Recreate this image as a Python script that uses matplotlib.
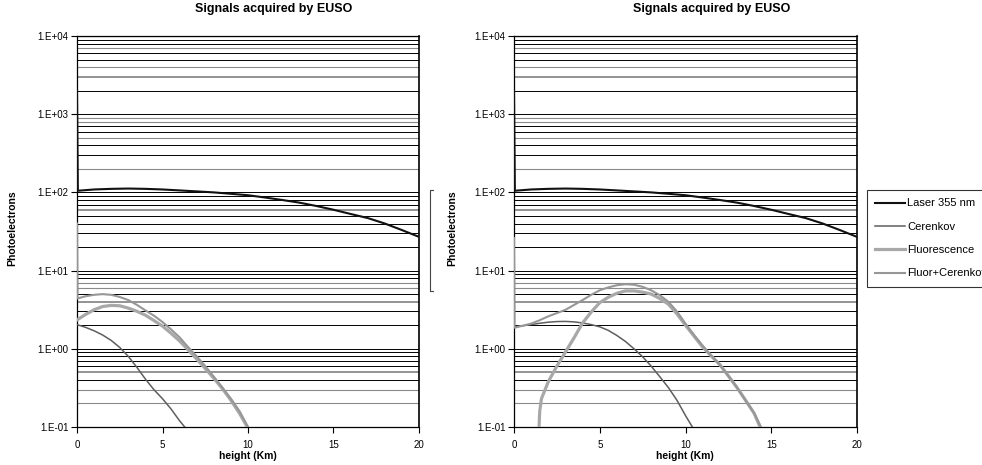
import numpy as np
import matplotlib
matplotlib.use("Agg")
import matplotlib.pyplot as plt
from matplotlib.lines import Line2D
from matplotlib.ticker import FixedLocator, FuncFormatter, NullLocator

plt.rcParams['font.family'] = ['Liberation Sans', 'DejaVu Sans']

# height (km) and photoelectron counts, case A (left panel)
laser_x = [0, 0.05, 1, 2, 3, 4, 5, 6, 7, 8, 9, 10, 11, 12, 13, 14, 15, 16, 17, 18, 19, 20]
laser_y = [2000, 105, 109, 111, 112, 111, 109, 106, 103, 100, 96, 92, 86, 80, 74, 67, 60, 53, 47, 40, 33, 27]

cer_a_x = [0, 0.5, 1, 1.5, 2, 2.5, 3, 3.5, 4, 4.5, 5, 5.5, 6, 6.3]
cer_a_y = [2.04, 1.88, 1.70, 1.50, 1.28, 1.04, 0.80, 0.58, 0.41, 0.30, 0.23, 0.17, 0.12, 0.1]

flu_a_x = [0, 0.5, 1, 1.5, 2, 2.5, 3, 3.5, 4, 4.5, 5, 5.5, 6, 6.5, 7, 7.5, 8, 8.5, 9, 9.5, 9.96]
flu_a_y = [2.34, 2.75, 3.16, 3.47, 3.59, 3.55, 3.31, 3.02, 2.69, 2.3, 1.95, 1.58, 1.26, 0.97,
           0.74, 0.56, 0.42, 0.31, 0.22, 0.15, 0.1]

sum_a_x = [0, 0.03, 0.5, 1, 1.5, 2, 2.5, 3, 3.5, 4, 4.5, 5, 5.5, 6, 6.5, 7, 7.5, 8, 8.5, 9, 9.5, 10]
sum_a_y = [40, 4.4, 4.7, 4.9, 5.0, 4.9, 4.6, 4.2, 3.65, 3.1, 2.65, 2.2, 1.77, 1.4, 1.05,
           0.8, 0.6, 0.44, 0.32, 0.23, 0.16, 0.1]

# case B (right panel)
cer_b_x = [0, 0.5, 1, 1.5, 2, 2.5, 3, 3.5, 4, 4.5, 5, 5.5, 6, 6.5, 7, 7.5, 8, 8.5, 9, 9.5, 10, 10.4]
cer_b_y = [1.9, 1.97, 2.04, 2.12, 2.19, 2.23, 2.24, 2.21, 2.14, 2.04, 1.91, 1.72, 1.48, 1.24,
           1.0, 0.79, 0.60, 0.44, 0.32, 0.22, 0.14, 0.1]

flu_b_x = [1.46, 1.5, 1.6, 2.0, 2.5, 3.0, 3.5, 4, 4.5, 5, 5.5, 6, 6.5, 7, 7.5, 8, 8.5, 9, 9.5,
           10, 10.5, 11, 11.5, 12, 12.5, 13, 13.5, 14, 14.35]
flu_b_y = [0.1, 0.16, 0.23, 0.38, 0.60, 0.91, 1.38, 2.14, 2.95, 3.89, 4.57, 5.13, 5.50, 5.50,
           5.3, 5.01, 4.4, 3.72, 2.8, 2.0, 1.45, 1.05, 0.81, 0.63, 0.45, 0.32, 0.22, 0.15, 0.1]

sum_b_x = [0, 0.03, 1, 1.46, 2, 3, 4, 4.5, 5, 5.5, 6, 6.5, 7, 7.5, 8, 8.5, 9, 9.5, 10, 10.5,
           11, 11.5, 12, 12.5, 13, 13.5, 14, 14.4]
sum_b_y = [26, 1.86, 2.1, 2.3, 2.6, 3.15, 4.2, 4.9, 5.6, 6.1, 6.5, 6.7, 6.6, 6.2, 5.6, 4.85,
           4.0, 3.0, 2.1, 1.5, 1.1, 0.82, 0.62, 0.45, 0.32, 0.22, 0.15, 0.1]

labels = ['Laser 355 nm', 'Cerenkov', 'Fluorescence', 'Fluor+Cerenkov']
colors = ['#111111', '#5e5e5e', '#a8a8a8', '#979797']
widths = [1.5, 1.1, 2.3, 1.5]

# minor grid levels that came out grey in the original export
grey_levels = {3000: 1.3, 4000: 0.8, 7000: 0.8, 900: 0.8, 800: 0.8, 500: 0.8, 200: 0.8,
               60: 1.3, 7: 0.8, 6: 0.8, 4: 1.3, 0.5: 1.3, 0.3: 0.8, 0.2: 0.8}

W, H = 982, 465
fig = plt.figure(figsize=(W / 100, H / 100), dpi=100)


def px(x0, y0, x1, y1):
    return [x0 / W, 1 - y1 / H, (x1 - x0) / W, (y1 - y0) / H]


def panel(rect, series):
    ax = fig.add_axes(rect)
    ax.set_yscale('log')
    ax.set_xlim(0, 20)
    ax.set_ylim(0.1, 1e4)
    for d in range(-1, 4):
        for m in range(1, 10):
            lv = round(m * 10.0 ** d, 6)
            if lv in grey_levels:
                ax.axhline(lv, color='#8a8a8a', lw=grey_levels[lv], zorder=1)
            else:
                ax.axhline(lv, color='black', lw=0.7, zorder=1)
    ax.axhline(1e4, color='black', lw=0.8, zorder=1)
    for (x, y), c, w in zip(series, colors, widths):
        ax.plot(x, y, color=c, lw=w, zorder=3, solid_joinstyle='round')
    ax.yaxis.set_major_locator(FixedLocator([0.1, 1, 10, 100, 1000, 10000]))
    ax.yaxis.set_minor_locator(NullLocator())
    ax.yaxis.set_major_formatter(FuncFormatter(lambda v, p: '1.E%+03d' % int(round(np.log10(v)))))
    ax.set_xticks([0, 5, 10, 15, 20])
    ax.tick_params(axis='both', direction='out', length=4, width=0.8, labelsize=7, pad=2)
    ax.tick_params(axis='x', pad=5)
    for s in ax.spines.values():
        s.set_linewidth(0.9)
        s.set_color('black')
    ax.spines['right'].set_linewidth(1.2)
    return ax


ax1 = panel(px(77, 36, 419, 427),
            [(laser_x, laser_y), (cer_a_x, cer_a_y), (flu_a_x, flu_a_y), (sum_a_x, sum_a_y)])

# left edge of the first chart's legend, peeking out behind the second chart
fig.add_artist(Line2D([433 / W, 430 / W, 430 / W, 433 / W],
                      [1 - 190 / H, 1 - 190 / H, 1 - 291 / H, 1 - 291 / H],
                      color='#444444', lw=0.8))

ax2 = panel(px(514, 36, 857, 427),
            [(laser_x, laser_y), (cer_b_x, cer_b_y), (flu_b_x, flu_b_y), (sum_b_x, sum_b_y)])

for cx, ylx, axc in [(274, 12, 248), (712, 452, 685)]:
    fig.text(cx / W, 1 - 9 / H, 'Signals acquired by EUSO', ha='center', va='center',
             fontsize=9, fontweight='bold')
    fig.text(ylx / W, 1 - 228 / H, 'Photoelectrons', ha='center', va='center',
             rotation=90, fontsize=7.5, fontweight='bold')
    fig.text(axc / W, 1 - 456 / H, 'height (Km)', ha='center', va='center',
             fontsize=7.5, fontweight='bold')

handles = [Line2D([], [], color=c, lw=w) for c, w in zip(colors, widths)]
leg = fig.legend(handles, labels, loc='upper left', bbox_to_anchor=(867 / W, 1 - 190 / H),
                 borderaxespad=0, fontsize=8, frameon=True, fancybox=False,
                 edgecolor='black', handlelength=2.7, handletextpad=0.15,
                 labelspacing=1.2, borderpad=0.76)
leg.get_frame().set_linewidth(0.8)

fig.savefig('out.png', dpi=100)
